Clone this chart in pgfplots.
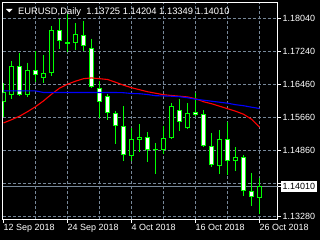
\documentclass[border=0pt]{standalone}
\usepackage{pgfplots}
\usepackage{pgfplotstable}
\pgfplotsset{compat=1.18}
\usepackage{fontspec}
\setmainfont{Liberation Sans}
\definecolor{mtgrid}{RGB}{119,136,153}
\definecolor{mtlime}{RGB}{0,255,0}

% candles: position, open, high, low, close
\newcommand{\bull}[5]{%
  \addplot[mtlime, line width=1bp] coordinates {(#1,#3) (#1,#4)};
  \addplot[mtlime, line width=5bp] coordinates {(#1,#2) (#1,#5)};
  \addplot[black, line width=3bp, shorten >=1bp, shorten <=1bp] coordinates {(#1,#2) (#1,#5)};}
\newcommand{\bear}[5]{%
  \addplot[mtlime, line width=1bp] coordinates {(#1,#3) (#1,#4)};
  \addplot[mtlime, line width=5bp] coordinates {(#1,#2) (#1,#5)};
  \addplot[white, line width=3bp, shorten >=1bp, shorten <=1bp] coordinates {(#1,#2) (#1,#5)};}
\newcommand{\dojicandle}[5]{%
  \addplot[mtlime, line width=1bp] coordinates {(#1,#3) (#1,#4)};
  \addplot[mtlime, line width=5bp] coordinates {(#1,#2) (#1,#5)};}

\pgfplotstableread{
i red blue
0 1.15530 1.16300
1 1.15607 1.16300
2 1.15691 1.16300
3 1.15800 1.16300
4 1.15920 1.16300
5 1.16059 1.16261
6 1.16220 1.16261
7 1.16364 1.16261
8 1.16461 1.16261
9 1.16533 1.16261
10 1.16593 1.16261
11 1.16612 1.16261
12 1.16593 1.16261
13 1.16574 1.16261
14 1.16509 1.16261
15 1.16437 1.16256
16 1.16377 1.16237
17 1.16328 1.16232
18 1.16280 1.16213
19 1.16244 1.16184
20 1.16208 1.16179
21 1.16189 1.16172
22 1.16172 1.16160
23 1.16155 1.16136
24 1.16112 1.16100
25 1.16040 1.16076
26 1.15992 1.16052
27 1.15932 1.16028
28 1.15872 1.16004
29 1.15812 1.15968
30 1.15739 1.15944
31 1.15619 1.15908
32 1.15427 1.15877
}\ma

\begin{document}
\begin{tikzpicture}
\fill[black] (0bp,0bp) rectangle (320bp,240bp);
\useasboundingbox (0bp,0bp) rectangle (320bp,240bp);
\begin{axis}[
  at={(2.5bp,20.5bp)}, anchor=south west,
  width=275bp, height=217bp, scale only axis,
  xmin=-0.125, xmax=34.25,
  ymin=1.13208, ymax=1.18425,
  axis line style={white, line width=1bp},
  tick align=outside,
  major tick length=3bp, minor tick length=0bp,
  tick style={white, line width=1bp},
  xtick pos=bottom, ytick pos=right,
  yticklabel pos=right,
  xtick={0,8,16,24,32},
  xticklabels={12 Sep 2018, 24 Sep 2018, 4 Oct 2018, 16 Oct 2018, 26 Oct 2018},
  minor xtick={4,8,12,16,20,24,28,32},
  ytick={1.13280,1.14073,1.14867,1.15660,1.16453,1.17247,1.18040},
  yticklabels={1.13280,{},1.14860,1.15660,1.16460,1.17240,1.18040},
  extra y ticks={1.14010},
  extra y tick labels={1.14010},
  extra y tick style={grid=none, yticklabel style={fill=white, text=black, inner xsep=2bp, inner ysep=2.2bp, xshift=-2bp}},
  xminorgrids=true, xmajorgrids=false, ymajorgrids=true,
  grid style={mtgrid, dash pattern=on 3bp off 2bp, line width=1bp},
  minor grid style={mtgrid, dash pattern=on 3bp off 2bp, line width=1bp},
  xticklabel style={anchor=north west, inner sep=0pt, text=white, font=\fontsize{9}{10}\selectfont, yshift=-2bp},
  yticklabel style={anchor=west, inner sep=0pt, text=white, font=\fontsize{9}{10}\selectfont, xshift=2bp},
  scaled y ticks=false,
]
\addplot[mtgrid, line width=1bp] coordinates {(-0.125,1.14010) (34.25,1.14010)};
\bull{0}{1.16035}{1.16485}{1.15674}{1.16268}
\bull{1}{1.16213}{1.17014}{1.16093}{1.16893}
\bear{2}{1.16893}{1.17199}{1.16172}{1.16196}
\bull{3}{1.16213}{1.16982}{1.16155}{1.16814}
\bear{4}{1.16814}{1.17261}{1.16509}{1.16670}
\bull{5}{1.16612}{1.17158}{1.16492}{1.16718}
\bull{6}{1.16718}{1.17855}{1.16653}{1.17752}
\bear{7}{1.17752}{1.18023}{1.17309}{1.17511}
\dojicandle{8}{1.17434}{1.18160}{1.17223}{1.17470}
\bull{9}{1.17454}{1.17934}{1.17278}{1.17663}
\bear{10}{1.17639}{1.17982}{1.17254}{1.17381}
\bear{11}{1.17343}{1.17559}{1.16377}{1.16396}
\bear{12}{1.16381}{1.16540}{1.15660}{1.16021}
\bear{13}{1.16172}{1.16220}{1.15612}{1.15780}
\bear{14}{1.15780}{1.15812}{1.15026}{1.15458}
\bear{15}{1.15444}{1.15932}{1.14617}{1.14761}
\bull{16}{1.14737}{1.15403}{1.14617}{1.15138}
\bull{17}{1.15122}{1.15499}{1.14826}{1.15187}
\bear{18}{1.15203}{1.15307}{1.14602}{1.14881}
\dojicandle{19}{1.14903}{1.15050}{1.14304}{1.14879}
\bull{20}{1.14881}{1.15444}{1.14778}{1.15179}
\bull{21}{1.15179}{1.15997}{1.15150}{1.15932}
\bear{22}{1.15852}{1.16093}{1.15338}{1.15554}
\bull{23}{1.15396}{1.15997}{1.15379}{1.15780}
\bear{24}{1.15788}{1.16252}{1.15700}{1.15723}
\bear{25}{1.15739}{1.15830}{1.14946}{1.14977}
\bear{26}{1.14987}{1.15283}{1.14465}{1.14521}
\bull{27}{1.14506}{1.15362}{1.14304}{1.15138}
\bear{28}{1.15138}{1.15547}{1.14280}{1.14626}
\bull{29}{1.14626}{1.14939}{1.14376}{1.14699}
\bear{30}{1.14699}{1.14747}{1.13775}{1.13905}
\bear{31}{1.13905}{1.14321}{1.13535}{1.13737}
\bull{32}{1.13725}{1.14204}{1.13349}{1.14010}
\addplot[red, line width=1.1bp] table[x=i, y=red] {\ma};
\addplot[blue, line width=1.1bp] table[x=i, y=blue] {\ma};
\end{axis}
\fill[white] (6bp,231bp) -- (12.5bp,231bp) -- (9.25bp,227.5bp) -- cycle;
\node[anchor=base west, inner sep=0pt, text=white, font=\fontsize{9.4}{10}\selectfont] at (18bp,225.5bp) {EURUSD,Daily\ \ 1.13725 1.14204 1.13349 1.14010};
\end{tikzpicture}
\end{document}
